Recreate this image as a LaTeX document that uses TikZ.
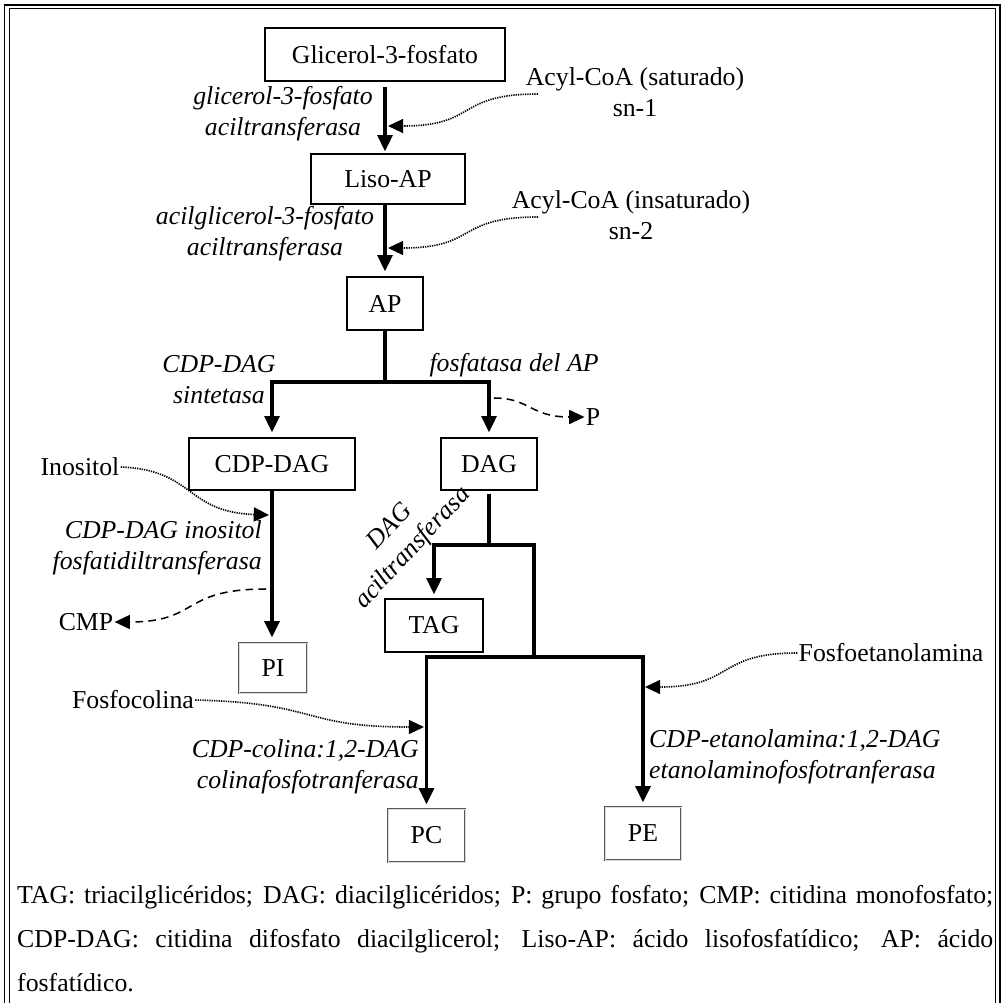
\documentclass[tikz,border=0pt]{standalone}
\usepackage{fontspec}
\setmainfont{Liberation Serif}
\usetikzlibrary{arrows.meta}

\begin{document}
\begin{tikzpicture}[x=0.3mm, y=-0.3mm,
    every node/.style={font=\fontsize{22}{26.5}\selectfont},
    box/.style={rectangle, draw, line width=0.9pt, inner sep=0pt, minimum height=15.9mm},
    prod/.style={box, draw=black!65, double=black!15, double distance=0.5pt, line width=0.7pt},
    flow/.style={-{Triangle[length=14pt,width=12.5pt]}, line width=3.3pt},
    trunk/.style={line width=3.3pt},
    supply/.style={-{Triangle[length=13pt,width=12pt]}, line width=1.4pt, dash pattern=on 1.1pt off 0.9pt},
    release/.style={-{Triangle[length=13pt,width=12pt]}, line width=1.3pt, dash pattern=on 6.5pt off 4.5pt},
    enz/.style={font=\fontsize{22}{26.5}\selectfont\itshape, align=center, inner sep=0pt},
    met/.style={inner sep=1pt, align=center}
]
\useasboundingbox (0,0) rectangle (1001,1003);

% Frame
\draw[line width=1.7pt] (4.5,1010) |- (999.5,5) -- (999.5,1010);
\draw[line width=1.1pt] (9.5,1010) |- (995.5,8.5) -- (995.5,1010);

% Metabolites
\node[box, minimum width=72mm] (g3p) at (385,54.5) {Glicerol-3-fosfato};
\node[box, minimum width=46.2mm, minimum height=15mm] (lisoap) at (388,179) {Liso-AP};
\node[box, minimum width=22.8mm] (ap) at (385,303.5) {AP};
\node[box, minimum width=49.8mm, minimum height=15.6mm] (cdpdag) at (272,464) {CDP-DAG};
\node[box, minimum width=28.8mm, minimum height=15.6mm] (dag) at (489,464) {DAG};
\node[box, minimum width=29.4mm] (tag) at (434,625.5) {TAG};
\node[prod, minimum width=20.4mm, minimum height=15mm] (pi) at (273,668) {PI};
\node[prod, minimum width=23.1mm] (pc) at (426.5,835.5) {PC};
\node[prod, minimum width=22.8mm] (pe) at (643,833.5) {PE};

% Substrates and by-products
\node[met] (acyl1) at (635,92) {Acyl-CoA (saturado)\\sn-1};
\node[met] (acyl2) at (631,215) {Acyl-CoA (insaturado)\\sn-2};
\node[met] (inositol) at (80,467) {Inositol};
\node[met] (cmp) at (86,622) {CMP};
\node[met] (pgroup) at (593,417) {P};
\node[met] (fcol) at (133,700) {Fosfocolina};
\node[met] (feta) at (891,653) {Fosfoetanolamina};

% Enzymes
\node[enz] (gpat) at (283,114) {glicerol-3-fosfato\\aciltransferasa};
\node[enz] (agpat) at (265,234) {acilglicerol-3-fosfato\\aciltransferasa};
\node[enz] (cds) at (219,380) {CDP-DAG\\sintetasa};
\node[enz] (pap) at (514,365) {fosfatasa del AP};
\node[enz, rotate=47] (dgat) at (402,538) {DAG\\aciltransferasa};
\node[enz, align=right, anchor=east] (cdipt) at (262,548) {CDP-DAG inositol\\fosfatidiltransferasa};
\node[enz, align=right, anchor=east] (cpt) at (419,767) {CDP-colina:1,2-DAG\\colinafosfotranferasa};
\node[enz, align=left, anchor=west] (ept) at (649,757) {CDP-etanolamina:1,2-DAG\\etanolaminofosfotranferasa};

% Branch points and side arrow ends
\coordinate (split1) at (385,382);
\coordinate (split2) at (489,545);
\coordinate (split3) at (534,657);
\coordinate (a1) at (538,94);
\coordinate (a2) at (538,217);
\coordinate (in1) at (388,126);
\coordinate (in2) at (388,248);
\coordinate (in3) at (269,515);
\coordinate (in4) at (424,727);
\coordinate (in5) at (645,687);
\coordinate (out1) at (266,589);
\coordinate (out2) at (494,398);

% Main pathway
\draw[flow, shorten <=1.5mm, shorten >=0.6mm] (g3p.south) -- (g3p.south |- lisoap.north);
\draw[flow, shorten >=1.5mm] (ap.north |- lisoap.south) -- (ap.north);
\draw[trunk] (ap.south) -- (split1);
\draw[flow, shorten >=1.5mm] (split1) -| (cdpdag.north);
\draw[flow, shorten >=1.5mm] (split1) -| (dag.north);
\draw[flow, shorten >=1.5mm] (cdpdag.south) -- (cdpdag.south |- pi.north);
\draw[trunk, shorten <=0.9mm] (dag.south) -- (split2);
\draw[flow, shorten >=1.2mm] (split2) -| (tag.north);
\draw[trunk] (split2) -| (split3);
\draw[flow, shorten >=1.2mm] (split3) -| (pc.north);
\draw[flow, shorten >=1.2mm] (split3) -| (pe.north);

% Side substrates (dotted) and released groups (dashed)
\draw[supply] (a1) .. controls (455,94) and (478,126) .. (in1);
\draw[supply] (a2) .. controls (455,217) and (478,248) .. (in2);
\draw[supply] (inositol.east) .. controls (195,470) and (185,512) .. (in3);
\draw[release] (out1) .. controls (180,589) and (200,622) .. (cmp.east);
\draw[release] (out2) .. controls (530,398) and (530,417) .. (pgroup.west);
\draw[supply] (fcol.east) .. controls (320,703) and (300,727) .. (in4);
\draw[supply] (feta.west) .. controls (715,653) and (735,687) .. (in5);

% Legend
\node[anchor=north west, text width=292.8mm, align=justify, inner sep=0pt,
      font=\fontsize{22}{37.6}\selectfont] (legend) at (17,885)
  {\hyphenpenalty=10000 TAG: triacilglicéridos; DAG: diacilglicéridos; P: grupo fosfato; CMP: citidina monofosfato;\linebreak
   CDP-DAG: citidina difosfato diacilglicerol; Liso-AP: ácido lisofosfatídico; AP: ácido\linebreak
   fosfatídico.};
\end{tikzpicture}
\end{document}
